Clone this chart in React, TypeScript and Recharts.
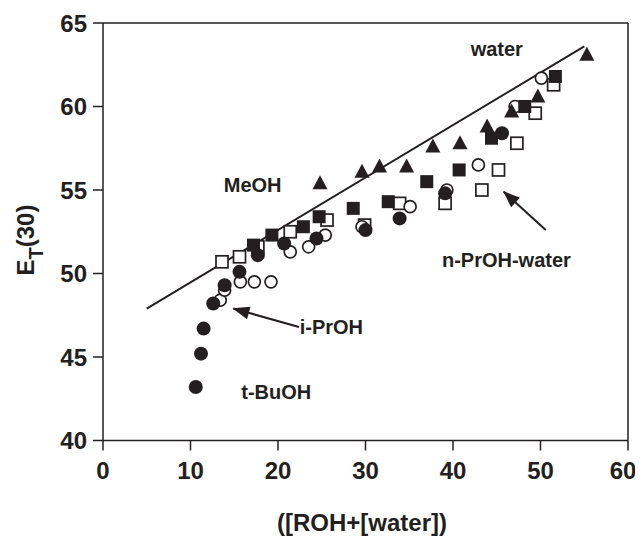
import React from "react";
import { ScatterChart, Scatter, XAxis, YAxis, ReferenceLine, ReferenceDot } from "recharts";

const INK = "#231f20";
const FONT = "'Liberation Sans', Arial, Helvetica, sans-serif";

const xTicks = [0, 10, 20, 30, 40, 50, 60];
const yTicks = [40, 45, 50, 55, 60, 65];

// filled circles
const tBuOH = [
  { x: 10.6, y: 43.2 }, { x: 11.2, y: 45.2 }, { x: 11.5, y: 46.7 }, { x: 12.6, y: 48.2 },
  { x: 13.9, y: 49.3 }, { x: 15.6, y: 50.1 }, { x: 17.7, y: 51.1 }, { x: 20.7, y: 51.8 },
  { x: 24.4, y: 52.1 }, { x: 30.0, y: 52.6 }, { x: 33.9, y: 53.3 }, { x: 39.1, y: 54.8 },
  { x: 45.6, y: 58.4 },
];
// open circles
const iPrOH = [
  { x: 13.4, y: 48.4 }, { x: 13.9, y: 49.0 }, { x: 15.7, y: 49.5 }, { x: 17.3, y: 49.5 },
  { x: 19.2, y: 49.5 }, { x: 21.4, y: 51.3 }, { x: 23.5, y: 51.6 }, { x: 25.4, y: 52.3 },
  { x: 29.6, y: 52.8 }, { x: 35.1, y: 54.0 }, { x: 39.3, y: 55.0 }, { x: 42.9, y: 56.5 },
  { x: 47.1, y: 60.0 }, { x: 50.1, y: 61.7 },
];
// filled squares
const etOH = [
  { x: 17.2, y: 51.7 }, { x: 19.3, y: 52.3 }, { x: 22.9, y: 52.8 }, { x: 24.7, y: 53.4 },
  { x: 28.6, y: 53.9 }, { x: 32.6, y: 54.3 }, { x: 37.0, y: 55.5 }, { x: 40.7, y: 56.2 },
  { x: 44.4, y: 58.1 }, { x: 48.2, y: 60.0 }, { x: 51.7, y: 61.8 },
];
// open squares
const nPrOH = [
  { x: 13.6, y: 50.7 }, { x: 15.6, y: 51.0 }, { x: 17.7, y: 51.6 }, { x: 21.4, y: 52.5 },
  { x: 25.6, y: 53.2 }, { x: 29.9, y: 52.9 }, { x: 33.9, y: 54.2 }, { x: 39.1, y: 54.2 },
  { x: 43.3, y: 55.0 }, { x: 45.2, y: 56.2 }, { x: 47.3, y: 57.8 }, { x: 49.4, y: 59.6 },
  { x: 51.5, y: 61.3 },
];
// filled triangles
const meOH = [
  { x: 24.8, y: 55.4 }, { x: 29.6, y: 56.1 }, { x: 31.6, y: 56.4 }, { x: 34.7, y: 56.4 },
  { x: 37.7, y: 57.6 }, { x: 40.8, y: 57.8 }, { x: 43.9, y: 58.8 }, { x: 46.7, y: 59.7 },
  { x: 49.7, y: 60.6 }, { x: 55.3, y: 63.1 },
];

const trendLine = [{ x: 5, y: 47.9 }, { x: 55, y: 63.6 }];

const textLabels = [
  { text: "water", x: 45.0, y: 63.45 },
  { text: "MeOH", x: 17.1, y: 55.3 },
  { text: "n-PrOH-water", x: 46.1, y: 50.8 },
  { text: "i-PrOH", x: 26.1, y: 46.8 },
  { text: "t-BuOH", x: 19.8, y: 42.9 },
];

const arrows = [
  { from: { x: 22.4, y: 46.8 }, to: { x: 14.9, y: 47.9 }, angle: -164.3 },
  { from: { x: 50.6, y: 52.6 }, to: { x: 45.8, y: 54.9 }, angle: -137.5 },
];

const FilledCircle = (p: any) => <circle cx={p.cx} cy={p.cy} r={7} fill={INK} />;
const OpenCircle = (p: any) => (
  <circle cx={p.cx} cy={p.cy} r={6} fill="#fff" stroke={INK} strokeWidth={1.7} />
);
const FilledSquare = (p: any) => (
  <rect x={p.cx - 6.5} y={p.cy - 6.5} width={13} height={13} fill={INK} />
);
const OpenSquare = (p: any) => (
  <rect x={p.cx - 6} y={p.cy - 6} width={12} height={12} fill="#fff" stroke={INK} strokeWidth={1.7} />
);
const Triangle = (p: any) => (
  <polygon
    points={`${p.cx},${p.cy - 8} ${p.cx - 7.5},${p.cy + 6} ${p.cx + 7.5},${p.cy + 6}`}
    fill={INK}
  />
);

const tickStyle = { fill: INK, fontSize: 24, fontWeight: 700, fontFamily: FONT };

export default function App() {
  return (
    <div style={{ width: 627, height: 530, background: "#fff" }}>
      <ScatterChart width={627} height={530} margin={{ top: 15, right: 7, bottom: 7.5, left: 0 }}>
        <XAxis
          type="number"
          dataKey="x"
          domain={[0, 60]}
          ticks={xTicks}
          tickSize={10}
          tickMargin={11}
          height={90}
          axisLine={{ stroke: INK, strokeWidth: 1.5 }}
          tickLine={{ stroke: INK, strokeWidth: 1.5 }}
          tick={tickStyle}
          label={{
            content: () => (
              <text
                x={354}
                y={514}
                textAnchor="middle"
                dominantBaseline="central"
                fill={INK}
                fontSize={24}
                fontWeight={700}
                fontFamily={FONT}
              >
                ([ROH+[water])
              </text>
            ),
          }}
        />
        <YAxis
          type="number"
          dataKey="y"
          domain={[40, 65]}
          ticks={yTicks}
          width={95}
          tickSize={10}
          tickMargin={6}
          axisLine={{ stroke: INK, strokeWidth: 1.5 }}
          tickLine={{ stroke: INK, strokeWidth: 1.5 }}
          tick={tickStyle}
          label={{
            content: () => (
              <text
                x={26}
                y={232}
                transform="rotate(-90 26 232)"
                textAnchor="middle"
                fill={INK}
                fontSize={24}
                fontWeight={700}
                fontFamily={FONT}
              >
                E<tspan fontSize={20} dy={9}>T</tspan>
                <tspan dy={-9}>(30)</tspan>
              </text>
            ),
          }}
        />
        <ReferenceLine y={65} stroke={INK} strokeWidth={1.5} />
        <ReferenceLine x={60} stroke={INK} strokeWidth={1.5} />
        <ReferenceLine segment={trendLine} stroke={INK} strokeWidth={2} />
        {arrows.map((a, i) => (
          <ReferenceLine key={"as" + i} segment={[a.from, a.to]} stroke={INK} strokeWidth={2} />
        ))}
        {arrows.map((a, i) => (
          <ReferenceDot
            key={"ah" + i}
            x={a.to.x}
            y={a.to.y}
            r={0}
            shape={(p: any) => (
              <polygon
                transform={`translate(${p.cx},${p.cy}) rotate(${a.angle})`}
                points="1,0 -16,-6.5 -16,6.5"
                fill={INK}
              />
            )}
          />
        ))}
        {textLabels.map((t, i) => (
          <ReferenceDot
            key={"tl" + i}
            x={t.x}
            y={t.y}
            r={0}
            shape={(p: any) => (
              <text
                x={p.cx}
                y={p.cy}
                textAnchor="middle"
                dominantBaseline="central"
                fill={INK}
                fontSize={20}
                fontWeight={700}
                fontFamily={FONT}
              >
                {t.text}
              </text>
            )}
          />
        ))}
        <Scatter name="n-PrOH" data={nPrOH} shape={OpenSquare} isAnimationActive={false} />
        <Scatter name="i-PrOH" data={iPrOH} shape={OpenCircle} isAnimationActive={false} />
        <Scatter name="EtOH" data={etOH} shape={FilledSquare} isAnimationActive={false} />
        <Scatter name="t-BuOH" data={tBuOH} shape={FilledCircle} isAnimationActive={false} />
        <Scatter name="MeOH" data={meOH} shape={Triangle} isAnimationActive={false} />
      </ScatterChart>
    </div>
  );
}
